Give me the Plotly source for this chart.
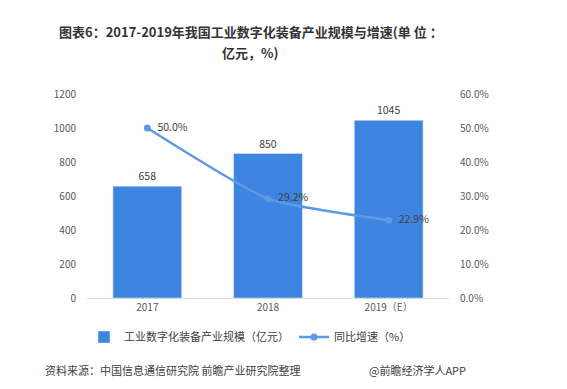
import plotly.graph_objects as go

categories = ["2017", "2018", "2019（E）"]
scale_values = [658, 850, 1045]
growth_values = [50.0, 29.2, 22.9]
left_ticks = [0, 200, 400, 600, 800, 1000, 1200]
right_ticks = [0, 10, 20, 30, 40, 50, 60]

FONT = "Noto Sans CJK SC, Microsoft YaHei, sans-serif"
BAR_COLOR = "#3D85E0"
LINE_COLOR = "#5E98E6"

# page body has an 8px margin; figure sized so it fits the 567x389 window
OFF = 8
W, H = 567 - OFF, 389 - OFF
L, R, T, B = 87 - OFF, W - (449 - OFF), 94 - OFF, H - (298 - OFF)

fig = go.Figure()
fig.add_trace(go.Bar(
    x=categories, y=scale_values, name="工业数字化装备产业规模（亿元）",
    marker=dict(color=BAR_COLOR), width=0.57,
    text=[str(v) for v in scale_values], textposition="outside",
    textfont=dict(size=10.5, color="#404040", family=FONT),
    cliponaxis=False,
))
fig.add_trace(go.Scatter(
    x=categories, y=growth_values, name="同比增速（%）", yaxis="y2",
    mode="lines+markers+text",
    line=dict(color=LINE_COLOR, width=2.5, shape="spline", smoothing=0.5),
    marker=dict(color=LINE_COLOR, size=7),
    text=["  " + f"{v:.1f}%" for v in growth_values], textposition="middle right",
    textfont=dict(size=10.5, color="#404040", family=FONT),
    cliponaxis=False,
))

pw = W - L - R
ph = H - T - B
def px(x): return (x - OFF - L) / pw
def py(y): return (H - B - (y - OFF)) / ph

fig.update_layout(
    width=W, height=H,
    margin=dict(l=L, r=R, t=T, b=B),
    paper_bgcolor="white", plot_bgcolor="white",
    font=dict(family=FONT, color="#595959", size=10),
    showlegend=True,
    legend=dict(orientation="h", x=px(250), xanchor="center", y=py(337), yanchor="middle",
                font=dict(size=11, color="#404040", family=FONT), itemwidth=30,
                traceorder="normal"),
    xaxis=dict(showgrid=False, showline=True, linecolor="#D9D9D9", linewidth=1,
               ticks="", tickfont=dict(size=10, color="#595959")),
    yaxis=dict(range=[0, 1200], tickvals=left_ticks, showgrid=False, zeroline=False,
               ticks="", ticklabelstandoff=10, tickfont=dict(size=10, color="#595959")),
    yaxis2=dict(range=[0, 60], tickvals=right_ticks,
                ticktext=[f"{t:.1f}%" for t in right_ticks],
                overlaying="y", side="right", showgrid=False, zeroline=False,
                ticks="", ticklabelstandoff=10, tickfont=dict(size=10, color="#595959")),
    annotations=[
        dict(text="<b>图表6：2017-2019年我国工业数字化装备产业规模与增速(单 位 ：</b>",
             xref="paper", yref="paper", x=px(251), y=py(42), xanchor="center", yanchor="bottom",
             showarrow=False, borderpad=0, font=dict(size=13, color="#333333", family=FONT)),
        dict(text="<b>亿元，%)</b>",
             xref="paper", yref="paper", x=px(250), y=py(42), xanchor="center", yanchor="top",
             showarrow=False, borderpad=0, font=dict(size=13, color="#333333", family=FONT)),
        dict(text="资料来源：中国信息通信研究院 前瞻产业研究院整理",
             xref="paper", yref="paper", x=px(43), y=py(370), xanchor="left", yanchor="middle",
             showarrow=False, font=dict(size=11, color="#404040", family=FONT)),
        dict(text="@前瞻经济学人APP",
             xref="paper", yref="paper", x=px(367), y=py(370), xanchor="left", yanchor="middle",
             showarrow=False, font=dict(size=11, color="#404040", family=FONT)),
    ],
)

fig.write_html("out.html")
